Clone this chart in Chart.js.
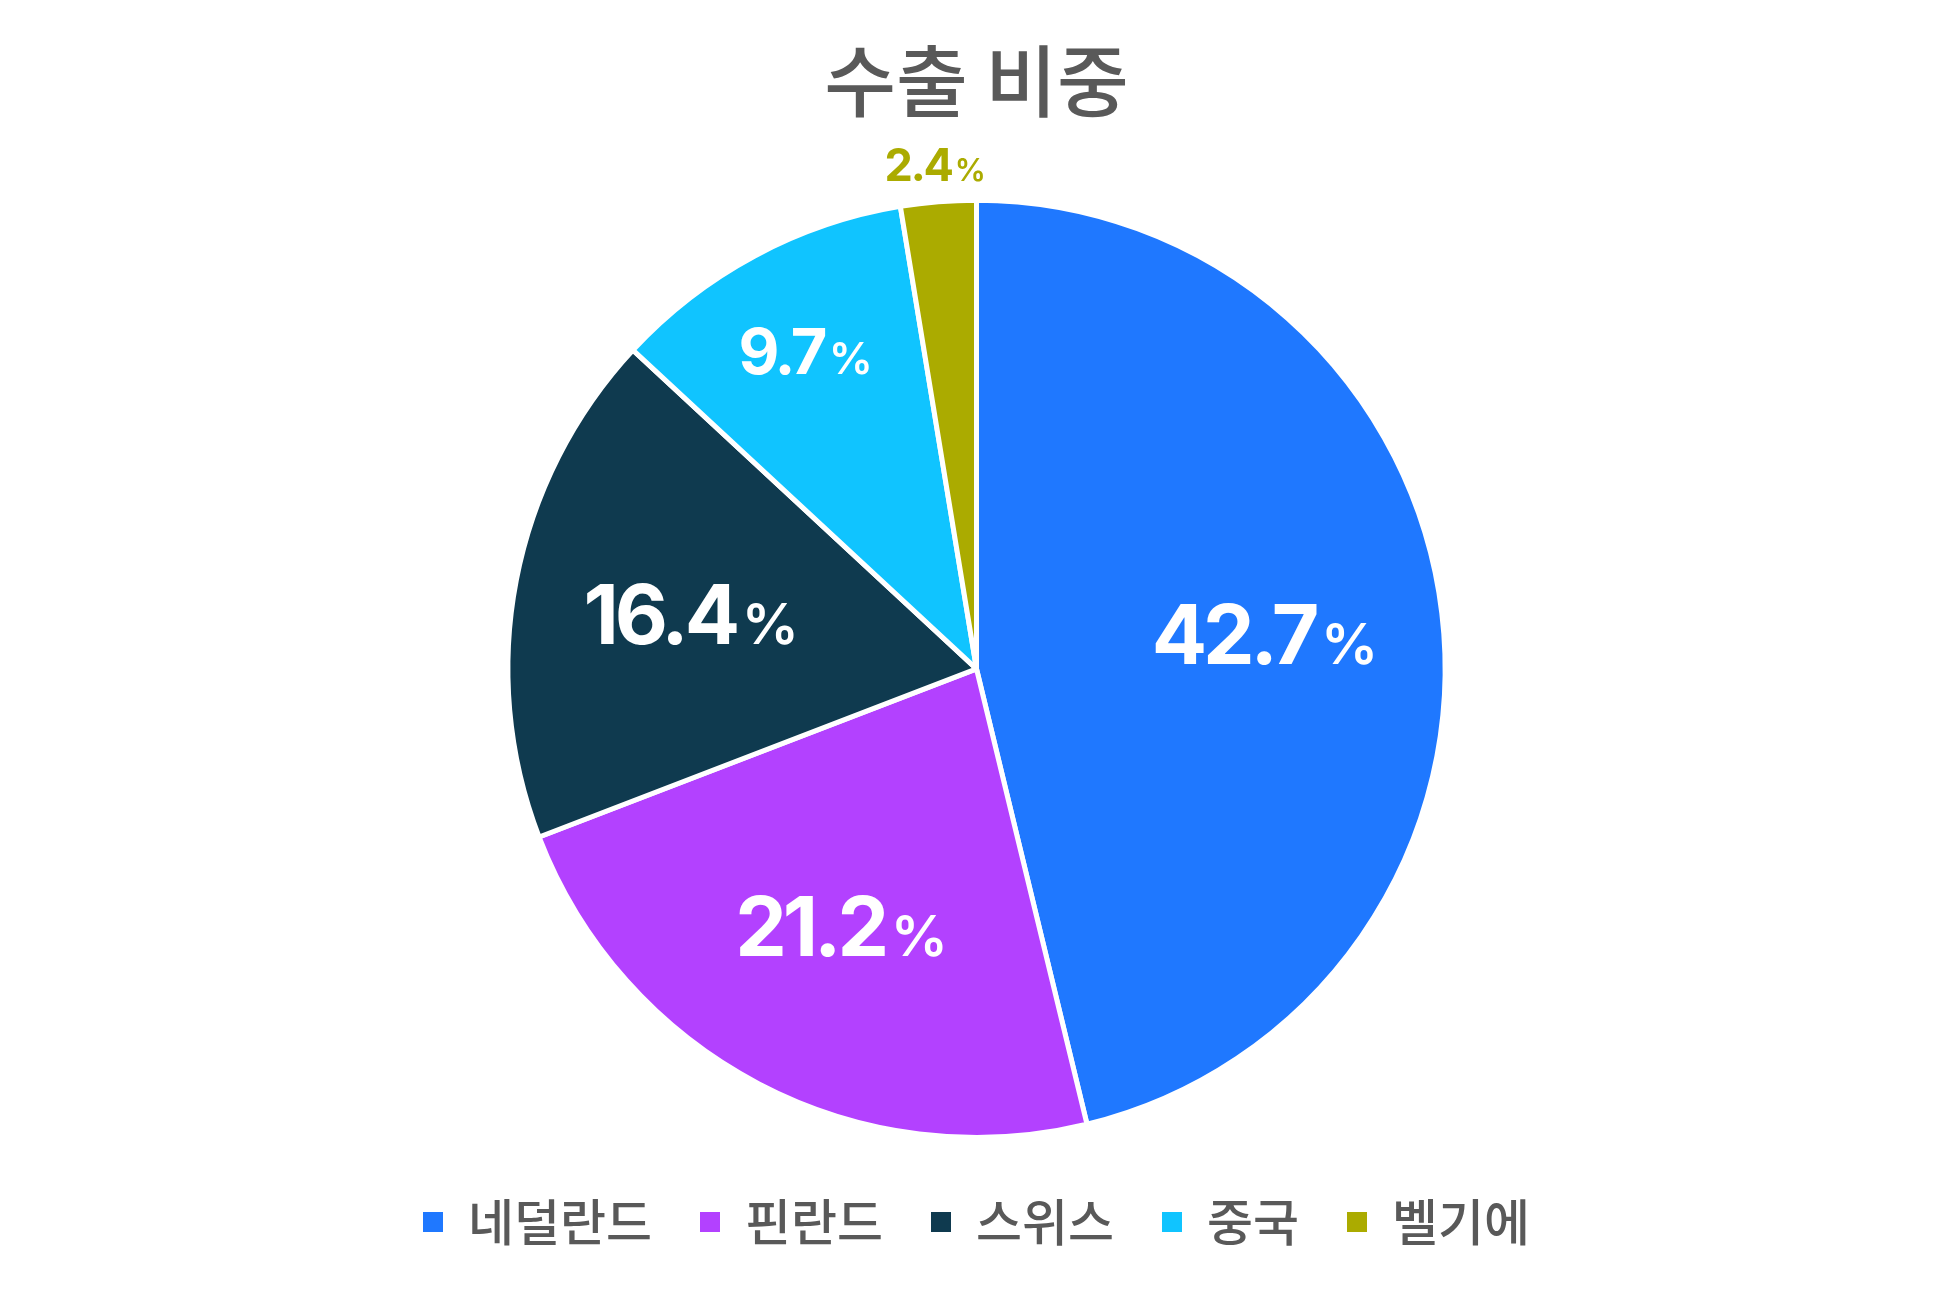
<!DOCTYPE html>
<html>
<head>
<meta charset="utf-8">
<script src="https://cdn.jsdelivr.net/npm/chart.js@4.4.1/dist/chart.umd.min.js"></script>
<style>
html,body{margin:0;padding:0;background:#ffffff;}
#wrap{width:1953px;height:1302px;position:relative;}
</style>
</head>
<body>
<div id="wrap"><canvas id="c" width="1953" height="1302"></canvas></div>
<script>
const chartTitle = '수출 비중';
const categories = ['네덜란드', '핀란드', '스위스', '중국', '벨기에'];
const shares = [42.7, 21.2, 16.4, 9.7, 2.4];
const sliceColors = ['#1F78FF', '#B341FF', '#0F3A4F', '#10C4FF', '#ABAB00'];

const labelPlugin = {
  id: 'sliceLabels',
  afterDatasetsDraw(chart) {
    const ctx = chart.ctx;
    const meta = chart.getDatasetMeta(0);
    meta.data.forEach((arc, i) => {
      const v = shares[i];
      const p = arc.getProps(['x', 'y', 'startAngle', 'endAngle', 'outerRadius'], true);
      const mid = (p.startAngle + p.endAngle) / 2;
      let factor, size, color;
      if (v >= 15) { factor = 0.62; size = 82; color = '#ffffff'; }
      else if (v >= 5) { factor = 0.77; size = 63; color = '#ffffff'; }
      else { factor = 1.08; size = 45; color = sliceColors[i]; }
      const cx = p.x + Math.cos(mid) * p.outerRadius * factor;
      const cy = p.y + Math.sin(mid) * p.outerRadius * factor;
      const numText = v.toFixed(1);
      const pctSize = Math.round(size * 0.7);
      ctx.save();
      ctx.fillStyle = color;
      ctx.textBaseline = 'alphabetic';
      ctx.textAlign = 'left';
      ctx.letterSpacing = (-size * 0.05) + 'px';
      ctx.font = '700 ' + size + 'px Inter';
      const w1 = ctx.measureText(numText).width;
      ctx.letterSpacing = '0px';
      ctx.font = '600 ' + pctSize + 'px Inter';
      const w2 = ctx.measureText('%').width;
      const gap = size * 0.07;
      const total = w1 + gap + w2;
      const x0 = cx - total / 2;
      const base = cy + size * 0.727 / 2;
      ctx.letterSpacing = (-size * 0.05) + 'px';
      ctx.font = '700 ' + size + 'px Inter';
      ctx.fillText(numText, x0, base);
      ctx.letterSpacing = '0px';
      ctx.font = '600 ' + pctSize + 'px Inter';
      ctx.fillText('%', x0 + w1 + gap, base);
      ctx.restore();
    });
  }
};

new Chart(document.getElementById('c'), {
  type: 'pie',
  data: {
    labels: categories,
    datasets: [{
      data: shares,
      backgroundColor: sliceColors,
      borderColor: '#ffffff',
      borderWidth: 5,
      radius: '98.1%'
    }]
  },
  options: {
    responsive: false,
    animation: false,
    devicePixelRatio: 1,
    layout: { padding: { top: 0, bottom: 45, left: 0, right: 0 } },
    plugins: {
      title: {
        display: true,
        text: chartTitle,
        color: '#595959',
        font: { family: '"Noto Sans CJK KR"', size: 78, weight: '500' },
        padding: { top: 35, bottom: 60 }
      },
      legend: {
        position: 'bottom',
        labels: {
          color: '#595959',
          font: { family: '"Noto Sans CJK KR"', size: 50, weight: '500' },
          boxWidth: 20,
          boxHeight: 20,
          padding: 48,
          generateLabels(chart) {
            const items = Chart.overrides.pie.plugins.legend.labels.generateLabels(chart);
            items.forEach(it => { it.lineWidth = 0; it.strokeStyle = it.fillStyle; });
            return items;
          }
        }
      },
      tooltip: { enabled: false }
    }
  },
  plugins: [labelPlugin]
});
</script>
</body>
</html>
